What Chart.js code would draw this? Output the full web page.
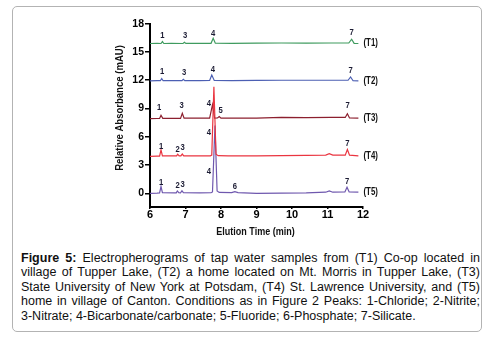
<!DOCTYPE html>
<html>
<head>
<meta charset="utf-8">
<script src="https://cdn.jsdelivr.net/npm/chart.js@4.4.1/dist/chart.umd.min.js"></script>
<style>
  html, body { margin: 0; padding: 0; background: #fff; }
  body { width: 493px; height: 345px; position: relative; overflow: hidden; }
  #frame {
    position: absolute; left: 12px; top: 6px; width: 468px; height: 324px;
    border: 1.5px solid #b3b3b3; border-radius: 5px;
  }
  #chart { position: absolute; left: 0; top: 0; }
  #caption {
    position: absolute; left: 21px; top: 251px; width: 459px;
    font-family: 'Liberation Sans', Arial, sans-serif; font-size: 12.5px;
    line-height: 14.4px; color: #111;
  }
  #caption div { text-align: justify; text-align-last: justify; white-space: nowrap; }
  #caption div.last { text-align-last: left; }
</style>
</head>
<body>
<div id="frame"></div>
<canvas id="chart" width="493" height="245"></canvas>
<div id="caption">
  <div><b>Figure 5:</b> Electropherograms of tap water samples from (T1) Co-op located in</div>
  <div>village of Tupper Lake, (T2) a home located on Mt. Morris in Tupper Lake, (T3)</div>
  <div>State University of New York at Potsdam, (T4) St. Lawrence University, and (T5)</div>
  <div>home in village of Canton. Conditions as in Figure 2 Peaks: 1-Chloride; 2-Nitrite;</div>
  <div class="last">3-Nitrate; 4-Bicarbonate/carbonate; 5-Fluoride; 6-Phosphate; 7-Silicate.</div>
</div>
<script>
// tick labels
const xTicks = [6, 7, 8, 9, 10, 11, 12];
const yTicks = [0, 3, 6, 9, 12, 15, 18];

// series names
const seriesNames = ['(T1)', '(T2)', '(T3)', '(T4)', '(T5)'];

// elution time (min) and absorbance (mAU)
const t1Time = [6.00, 6.20, 6.31, 6.35, 6.39, 6.60, 6.93, 6.97, 7.01, 7.40, 7.72, 7.78, 7.84, 8.30, 9.00, 9.70, 10.40, 11.10, 11.60, 11.68, 11.75, 11.87];
const t1Abs  = [15.90, 15.91, 15.90, 16.10, 15.90, 15.92, 15.90, 16.02, 15.91, 15.92, 15.92, 16.45, 15.93, 15.92, 15.93, 15.95, 15.93, 15.95, 15.95, 16.35, 15.92, 15.90];

const t2Time = [6.00, 6.20, 6.29, 6.33, 6.37, 6.60, 6.90, 6.94, 6.98, 7.40, 7.68, 7.74, 7.81, 8.30, 9.00, 9.70, 10.40, 11.10, 11.58, 11.65, 11.72, 11.87];
const t2Abs  = [11.93, 11.95, 11.95, 12.18, 11.95, 11.96, 11.95, 12.10, 11.96, 11.97, 11.98, 12.55, 11.98, 11.97, 11.98, 12.00, 12.00, 12.00, 12.00, 12.35, 11.95, 11.93];

const t3Time = [6.00, 6.20, 6.27, 6.31, 6.36, 6.60, 6.86, 6.91, 6.96, 7.40, 7.68, 7.76, 7.82, 7.90, 7.95, 8.00, 8.40, 9.00, 9.70, 10.40, 11.10, 11.50, 11.56, 11.62, 11.87];
const t3Abs  = [7.93, 7.94, 7.95, 8.28, 7.95, 7.96, 7.95, 8.50, 7.98, 7.97, 7.98, 9.40, 7.98, 8.00, 8.15, 7.98, 7.97, 7.98, 8.05, 8.04, 8.05, 8.05, 8.45, 8.00, 7.97];

const t4Time = [6.00, 6.20, 6.27, 6.31, 6.35, 6.70, 6.75, 6.78, 6.82, 6.87, 6.91, 6.95, 7.40, 7.70, 7.74, 7.80, 7.86, 7.92, 8.20, 9.00, 9.70, 10.40, 10.95, 11.05, 11.15, 11.50, 11.56, 11.62, 11.87];
const t4Abs  = [3.93, 3.95, 3.95, 4.60, 3.97, 3.97, 3.97, 4.15, 3.98, 3.97, 4.17, 3.98, 3.97, 3.98, 4.05, 11.30, 4.15, 4.00, 3.98, 3.98, 4.00, 4.02, 4.05, 4.20, 4.05, 4.05, 4.65, 4.05, 3.98];

const t5Time = [6.00, 6.20, 6.27, 6.31, 6.35, 6.70, 6.74, 6.77, 6.81, 6.86, 6.90, 6.94, 7.40, 7.72, 7.76, 7.83, 7.89, 7.95, 8.30, 8.39, 8.48, 9.00, 9.70, 10.40, 10.95, 11.05, 11.15, 11.49, 11.55, 11.61, 11.87];
const t5Abs  = [0.00, 0.03, 0.05, 0.72, 0.08, 0.05, 0.05, 0.25, 0.07, 0.06, 0.28, 0.07, 0.05, 0.06, 0.15, 7.20, 0.25, 0.10, 0.08, 0.18, 0.08, 0.00, 0.02, 0.05, 0.12, 0.25, 0.12, 0.15, 0.65, 0.15, 0.12];

// peak numbers: [label, time, absorbance]
const t1Peaks = [['1', 6.35, 16.76], ['3', 6.99, 16.76], ['4', 7.78, 16.94], ['7', 11.68, 17.0]];
const t2Peaks = [['1', 6.34, 12.88], ['3', 6.96, 12.77], ['4', 7.77, 13.09], ['7', 11.65, 12.98]];
const t3Peaks = [['1', 6.26, 9.09], ['3', 6.89, 9.27], ['4', 7.66, 9.48], ['5', 7.99, 8.74], ['7', 11.57, 9.27]];
const t4Peaks = [['1', 6.31, 4.95], ['2', 6.78, 4.67], ['3', 6.92, 4.81], ['4', 7.66, 6.43], ['7', 11.56, 5.23]];
const t5Peaks = [['1', 6.31, 1.17], ['2', 6.78, 0.77], ['3', 6.92, 0.88], ['4', 7.66, 2.29], ['6', 8.39, 0.67], ['7', 11.55, 1.2]];

const colors = ['#3f9b5f', '#4c5fb3', '#8c1f2e', '#ea3540', '#6f58ae'];
const sans = "'Liberation Sans', Arial, sans-serif";

const times = [t1Time, t2Time, t3Time, t4Time, t5Time];
const abs = [t1Abs, t2Abs, t3Abs, t4Abs, t5Abs];
const peaks = [t1Peaks, t2Peaks, t3Peaks, t4Peaks, t5Peaks];

const datasets = seriesNames.map((name, i) => ({
  label: name,
  data: times[i].map((t, j) => ({ x: t, y: abs[i][j] })),
  borderColor: colors[i],
  borderWidth: 1.2,
  pointRadius: 0,
  tension: 0,
  fill: false,
  order: i === 3 ? 0 : 1 + i
}));

// narrow text: squeeze the glyphs horizontally, the reference uses a condensed face
function narrowText(ctx, text, x, y, squeeze) {
  ctx.save();
  ctx.translate(x, y);
  ctx.scale(squeeze, 1);
  ctx.fillText(text, 0, 0);
  ctx.restore();
}

const labelsPlugin = {
  id: 'labels',
  afterDraw(chart) {
    const ctx = chart.ctx;
    const xs = chart.scales.x, ys = chart.scales.y;
    ctx.save();
    // peak numbers
    ctx.font = 'bold 8.5px ' + sans;
    ctx.fillStyle = '#1b1b33';
    ctx.textAlign = 'center';
    ctx.textBaseline = 'middle';
    peaks.forEach(list => list.forEach(p => {
      narrowText(ctx, p[0], xs.getPixelForValue(p[1]), ys.getPixelForValue(p[2]), 0.9);
    }));
    // series names at the right end
    ctx.font = 'bold 10.5px ' + sans;
    ctx.fillStyle = '#111';
    ctx.textAlign = 'left';
    seriesNames.forEach((name, i) => {
      const last = abs[i][abs[i].length - 1];
      narrowText(ctx, name, xs.right + 0.5, ys.getPixelForValue(last), 0.75);
    });
    // axis titles
    ctx.font = 'bold 11px ' + sans;
    ctx.fillStyle = '#111';
    ctx.textAlign = 'center';
    narrowText(ctx, 'Elution Time (min)', (xs.left + xs.right) / 2 - 1, 232, 0.82);
    ctx.font = 'bold 11.5px ' + sans;
    ctx.translate(xs.left - 30.5, 108);
    ctx.rotate(-Math.PI / 2);
    narrowText(ctx, 'Relative Absorbance (mAU)', 0, 0, 0.83);
    ctx.restore();
  }
};

new Chart(document.getElementById('chart'), {
  type: 'line',
  data: { datasets: datasets },
  options: {
    responsive: false,
    animation: false,
    layout: { padding: { left: 0, right: 130, top: 23.7, bottom: 0 } },
    plugins: { legend: { display: false }, tooltip: { enabled: false } },
    scales: {
      x: {
        type: 'linear',
        min: 6,
        max: 12,
        afterFit: s => { s.height = 38; },
        afterBuildTicks: s => { s.ticks = xTicks.map(v => ({ value: v })); },
        grid: { drawOnChartArea: false, drawTicks: true, tickLength: 2, color: '#000', lineWidth: 1.5 },
        border: { display: true, color: '#000', width: 2 },
        ticks: { color: '#000', padding: -1, maxRotation: 0, font: { family: sans, size: 11, weight: 'bold' } }
      },
      y: {
        type: 'linear',
        min: -1.45,
        max: 18,
        afterFit: s => { s.width = 150; },
        afterBuildTicks: s => { s.ticks = yTicks.map(v => ({ value: v })); },
        grid: { drawOnChartArea: false, drawTicks: true, tickLength: 5, color: '#000', lineWidth: 1.5 },
        border: { display: true, color: '#000', width: 2 },
        ticks: { color: '#000', padding: 1, font: { family: sans, size: 10.5, weight: 'bold' } }
      }
    }
  },
  plugins: [labelsPlugin]
});
</script>
</body>
</html>
